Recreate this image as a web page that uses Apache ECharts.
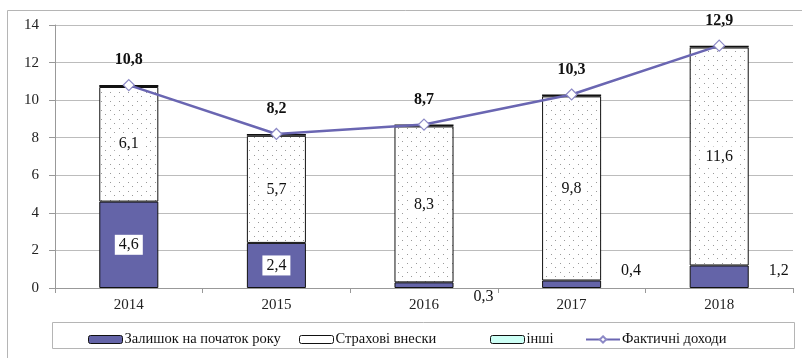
<!DOCTYPE html>
<html>
<head>
<meta charset="utf-8">
<script src="https://cdn.jsdelivr.net/npm/echarts@6/dist/echarts.min.js"></script>
<style>
  html, body { margin: 0; padding: 0; background: #fff; }
  #main { width: 802px; height: 358px; }
</style>
</head>
<body>
<div id="main"></div>
<script>
// дані
const years = ['2014', '2015', '2016', '2017', '2018'];
const balance = [4.6, 2.4, 0.3, 0.4, 1.2];     // Залишок на початок року
const premiums = [6.1, 5.7, 8.3, 9.8, 11.6];   // Страхові внески
const other = [0.1, 0.1, 0.1, 0.1, 0.1];       // інші
const actual = [10.8, 8.2, 8.7, 10.3, 12.9];   // Фактичні доходи
const yTicks = [0, 2, 4, 6, 8, 10, 12, 14];

const FONT = 'Liberation Serif';
const comma = v => String(v).replace('.', ',');

// крапковий візерунок для внесків
function dotPattern() {
  const c = document.createElement('canvas');
  c.width = 9; c.height = 9;
  const ctx = c.getContext('2d');
  ctx.fillStyle = '#fff';
  ctx.fillRect(0, 0, 9, 9);
  ctx.fillStyle = '#9a9a9a';
  ctx.fillRect(2, 2, 1, 1);
  ctx.fillRect(6, 6, 1, 1);
  return c;
}

const chart = echarts.init(document.getElementById('main'));

// підписи малих залишків — праворуч від стовпця
const smallShift = { 2: 12, 3: -13, 4: -6 };
const balanceData = balance.map((v, i) => {
  if (v >= 2) return v;
  return {
    value: v,
    label: {
      position: 'right',
      distance: 20,
      offset: [0, smallShift[i] || 0],
      backgroundColor: 'transparent',
      padding: 0
    }
  };
});

const labelBox = {
  show: true,
  position: 'inside',
  formatter: p => comma(p.value),
  fontFamily: FONT,
  fontSize: 16,
  color: '#111',
  backgroundColor: '#fff',
  padding: [3, 4, 1, 4]
};

// легенда — окремий блок на кожен пункт, як у Excel
const legendItems = [
  { name: 'Залишок на початок року', left: 83, itemStyle: { color: '#6464a8', borderColor: '#111', borderWidth: 1 } },
  { name: 'Страхові внески', left: 294, itemStyle: { color: '#fff', borderColor: '#111', borderWidth: 1 } },
  { name: 'інші', left: 485, itemStyle: { color: '#ccfff5', borderColor: '#111', borderWidth: 1 } },
  { name: 'Фактичні доходи', left: 580 }
];
const legends = legendItems.map(it => ({
  left: it.left,
  top: 327,
  itemWidth: 34,
  itemHeight: 8,
  textStyle: { fontFamily: FONT, fontSize: 14.5, color: '#111', padding: [0, 0, 0, -3] },
  data: [it.itemStyle ? { name: it.name, itemStyle: it.itemStyle } : { name: it.name }]
}));

chart.setOption({
  animation: false,
  backgroundColor: '#fff',
  textStyle: { fontFamily: FONT },
  grid: { left: 55, right: 9, top: 25, bottom: 70 },
  graphic: [
    {
      type: 'rect', silent: true, z: -1,
      shape: { x: 7.5, y: 10.5, width: 810, height: 360 },
      style: { fill: 'none', stroke: '#b5b5b5', lineWidth: 1 }
    },
    {
      type: 'rect', silent: true, z: -1,
      shape: { x: 52.5, y: 322.5, width: 742, height: 26 },
      style: { fill: 'none', stroke: '#b5b5b5', lineWidth: 1 }
    }
  ],
  legend: legends,
  xAxis: {
    type: 'category',
    data: years,
    axisLine: { lineStyle: { color: '#999' } },
    axisTick: { show: true, length: 5, lineStyle: { color: '#999' } },
    axisLabel: { fontFamily: FONT, fontSize: 15, color: '#222', margin: 10 }
  },
  yAxis: {
    type: 'value',
    min: yTicks[0],
    max: yTicks[yTicks.length - 1],
    interval: 2,
    axisLine: { show: true, lineStyle: { color: '#999' } },
    axisTick: { show: true, length: 6, lineStyle: { color: '#999' } },
    axisLabel: { fontFamily: FONT, fontSize: 15, color: '#222', margin: 16 },
    splitLine: { lineStyle: { color: '#bcbcbc', width: 1 } }
  },
  series: [
    {
      name: 'Залишок на початок року',
      type: 'bar',
      stack: 'total',
      barWidth: '40%',
      data: balanceData,
      itemStyle: { color: '#6464a8', borderColor: '#111', borderWidth: 1 },
      label: labelBox
    },
    {
      name: 'Страхові внески',
      type: 'bar',
      stack: 'total',
      data: premiums,
      itemStyle: { color: { image: dotPattern(), repeat: 'repeat' }, borderColor: '#111', borderWidth: 1 },
      label: labelBox
    },
    {
      name: 'інші',
      type: 'bar',
      stack: 'total',
      data: other,
      itemStyle: { color: '#111', borderColor: '#111', borderWidth: 1.5 }
    },
    {
      name: 'Фактичні доходи',
      type: 'line',
      data: actual,
      z: 5,
      symbol: 'diamond',
      symbolSize: 11,
      lineStyle: { color: '#6a66b2', width: 2.5 },
      itemStyle: { color: '#fff', borderColor: '#8c89c6', borderWidth: 1.2 },
      label: {
        show: true,
        position: 'top',
        distance: 11,
        formatter: p => comma(p.value),
        fontFamily: FONT,
        fontSize: 16,
        fontWeight: 'bold',
        color: '#111'
      }
    }
  ]
});
</script>
</body>
</html>
